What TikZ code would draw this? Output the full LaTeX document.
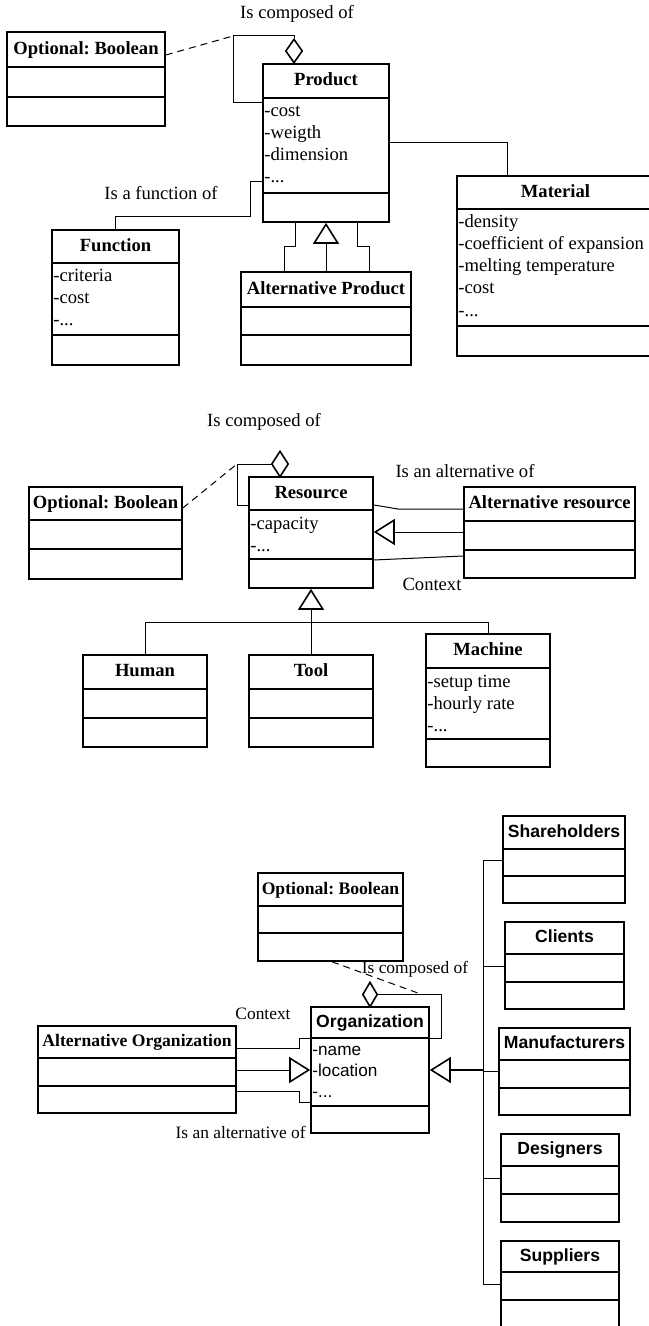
\documentclass[tikz,border=0pt]{standalone}
\usepackage{fontspec}
\setmainfont{Liberation Serif}
\setsansfont{Liberation Sans}
\frenchspacing
\usetikzlibrary{fit,arrows.meta,shapes.geometric}
\tikzset{
  box/.style={draw, line width=0.8pt, inner sep=0pt},
  divline/.style={line width=0.8pt},
  conn/.style={line width=0.5pt},
  ttl/.style={inner sep=0pt, font=\fontsize{9.3}{11}\selectfont\bfseries, text height=6.4pt, text depth=1.6pt},
  ttlb/.style={inner sep=0pt, font=\fontsize{8.8}{10}\selectfont\bfseries, text height=6.1pt, text depth=1.5pt},
  sttl/.style={inner sep=0pt, font=\fontsize{8.8}{10}\selectfont\sffamily\bfseries, text height=6.4pt, text depth=1.6pt},
  attr/.style={anchor=base west, inner sep=0.5pt, font=\fontsize{9.3}{11}\selectfont},
  sattr/.style={anchor=base west, inner sep=0.5pt, font=\fontsize{8.6}{10}\selectfont\sffamily},
  lbl/.style={inner sep=0pt, font=\fontsize{9.3}{11}\selectfont},
  lblb/.style={inner sep=0pt, font=\fontsize{8.7}{10}\selectfont},
  agg/.style={draw, shape=diamond, line width=0.8pt, inner sep=0pt, fill=white},
  gen/.style={conn, -{Triangle[open, length=10.5pt, width=13pt, line width=0.8pt]}},
  dsh/.style={conn, dash pattern=on 3.5pt off 2.5pt},
}
\newcommand\tdots{.{}.{}.}
\newcommand\umlclass[9]{%
  \node[box, fit={(#2,#3)(#4,#5)}] (#1) {};
  \draw[divline] (#1.west |- 0,#6) -- (#1.east |- 0,#6);
  \draw[divline] (#1.west |- 0,#7) -- (#1.east |- 0,#7);
  \node[#8] (#1-t) at ({(#2+#4)/2},{(#3+#6)/2}) {#9};
}
\newcommand\umlattrs[6]{%
  \foreach \tx [count=\i] in {#6} {\node[#2] (#1-a\i) at (#3, {#4+(\i-1)*#5}) {\tx};}
}
\begin{document}
\begin{tikzpicture}[x=0.5pt,y=-0.5pt]
\useasboundingbox (0,0) rectangle (648,1326);
% ---------------- Top: Product ----------------
\umlclass{opt1}{7}{32}{165}{126}{67}{97}{ttl}{Optional: Boolean}
\umlclass{prod}{263}{64}{389}{222}{98}{193}{ttl}{Product}
\umlattrs{prod}{attr}{263}{117}{22}{-cost,-weigth,-dimension,-\tdots}
\umlclass{mat}{457}{176}{654}{356}{209}{326}{ttl}{Material}
\umlattrs{mat}{attr}{457}{228}{22}{-density,-coefficient of expansion,-melting temperature,-cost,-\tdots}
\umlclass{func}{52}{230}{179}{365}{263}{335}{ttl}{Function}
\umlattrs{func}{attr}{52}{282}{22}{-criteria,-cost,-\tdots}
\umlclass{altp}{241}{272}{411}{365}{307}{335}{ttl}{Alternative Product}

\node[lbl] (l1) at (297,14) {Is composed of};
\node[agg, minimum width=8.5pt, minimum height=12pt] (dia1) at (294,51) {};
\coordinate (c1) at (233,36);
\draw[conn] (dia1.north) -- (dia1.north |- c1) -- (c1) -- (c1 |- 0,103) -- (prod.west |- 0,103);
\draw[dsh] (opt1.east |- 0,55) -- (c1);
\draw[conn] (prod.east |- 0,143) -- (507,143) -- (mat.north -| 507,0);
\draw[conn] (prod.west |- 0,182) -- (250,182) -- (250,217) -- (115,217) -- (func.north -| 115,0);
\node[lbl] (l2) at (161,193) {Is a function of};
\draw[gen] (altp.north -| 326,0) -- (prod.south -| 326,0);
\draw[conn] (prod.south -| 295,0) -- (295,247) -- (284,247) -- (altp.north -| 284,0);
\draw[conn] (prod.south -| 357,0) -- (357,247) -- (369,247) -- (altp.north -| 369,0);

% ---------------- Middle: Resource ----------------
\umlclass{opt2}{29}{487}{182}{579}{520}{549}{ttl}{Optional: Boolean}
\umlclass{res}{249}{477}{373}{588}{510}{559}{ttl}{Resource}
\umlattrs{res}{attr}{249}{529}{22}{-capacity,-\tdots}
\umlclass{altr}{464}{487}{635}{578}{521}{550}{ttl}{Alternative resource}
\node[lbl] (l3) at (264,422) {Is composed of};
\node[agg, minimum width=8.5pt, minimum height=13pt] (dia2) at (280,464) {};
\coordinate (c2) at (237,464);
\draw[conn] (dia2.west) -- (c2) -- (c2 |- 0,505) -- (res.west |- 0,505);
\draw[dsh] (opt2.east |- 0,508) -- (c2);
\node[lbl] (l4) at (465,471) {Is an alternative of};
\draw[conn] (res.east |- 0,505) -- (398,509) -- (altr.west |- 0,509);
\draw[gen] (altr.west |- 0,532) -- (res.east |- 0,532);
\draw[conn] (res.east |- 0,560) -- (altr.west |- 0,556);
\node[lbl] (l5) at (432,584) {Context};

\umlclass{hum}{83}{655}{207}{747}{689}{718}{ttl}{Human}
\umlclass{tool}{249}{655}{373}{747}{689}{718}{ttl}{Tool}
\umlclass{mach}{426}{634}{550}{767}{668}{739}{ttl}{Machine}
\umlattrs{mach}{attr}{426}{687}{22}{-setup time,-hourly rate,-\tdots}
\draw[gen] (tool.north) -- (tool.north |- res.south);
\draw[conn] (hum.north) -- (hum.north |- 0,622) -- (mach.north |- 0,622) -- (mach.north);

% ---------------- Bottom: Organization ----------------
\umlclass{sh}{503}{816}{625}{903}{849}{876}{sttl}{Shareholders}
\umlclass{opt3}{258}{873}{403}{961}{906}{933}{ttlb}{Optional: Boolean}
\umlclass{cl}{505}{922}{624}{1009}{954}{982}{sttl}{Clients}
\umlclass{man}{499}{1028}{630}{1115}{1060}{1088}{sttl}{Manufacturers}
\umlclass{des}{501}{1134}{619}{1222}{1166}{1194}{sttl}{Designers}
\umlclass{sup}{501}{1241}{619}{1330}{1272}{1300}{sttl}{Suppliers}
\umlclass{org}{311}{1007}{429}{1133}{1038}{1106}{sttl}{Organization}
\umlattrs{org}{sattr}{311}{1055}{21}{-name,-location,-\tdots}
\umlclass{altorg}{38}{1026}{236}{1113}{1058}{1086}{ttlb}{Alternative Organization}

\node[agg, minimum width=7.5pt, minimum height=12.5pt] (dia3) at (370,994.5) {};
\coordinate (c3) at (441,994.5);
\draw[conn] (dia3.east) -- (c3) -- (c3 |- 0,1038) -- (org.east |- 0,1038);
\coordinate (c4) at (422,994.5);
\draw[dsh] (opt3.south -| 332,0) -- (c4);
\node[lblb] (l6) at (415,969) {Is composed of};
\node[lblb] (l7) at (263,1014) {Context};
\draw[conn] (altorg.east |- 0,1048) -- (299,1048) -- (299,1038) -- (org.west |- 0,1038);
\draw[gen] (altorg.east |- 0,1070) -- (org.west |- 0,1070);
\draw[conn] (altorg.east |- 0,1091) -- (299,1091) -- (299,1102) -- (org.west |- 0,1102);
\node[lblb, anchor=east] (l8) at (306,1132) {Is an alternative of};

\coordinate (bt) at (483,860);
\coordinate (bb) at (483,1284);
\draw[conn] (sh.west |- bt) -- (bt) -- (bb) -- (sup.west |- bb);
\draw[conn] (bt |- 0,966) -- (cl.west |- 0,966);
\draw[conn] (bt |- 0,1071) -- (man.west |- 0,1071);
\draw[conn] (bt |- 0,1178) -- (des.west |- 0,1178);
\draw[gen, line width=1pt] (bt |- 0,1070) -- (org.east |- 0,1070);
\end{tikzpicture}
\end{document}
